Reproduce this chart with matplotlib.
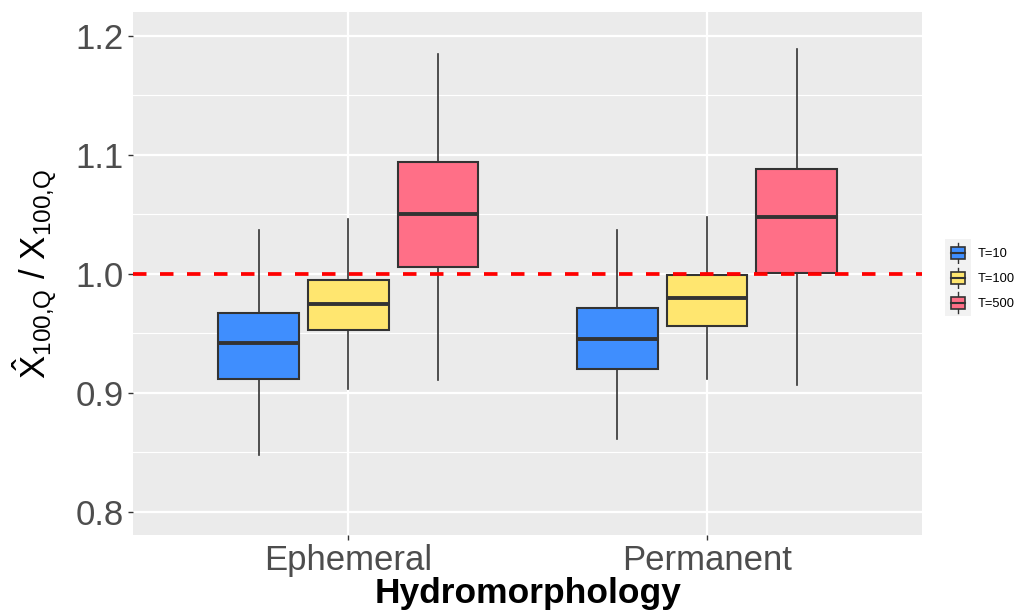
import matplotlib
matplotlib.use("Agg")
import matplotlib.pyplot as plt
from matplotlib.patches import Rectangle
from matplotlib.lines import Line2D
from matplotlib.legend_handler import HandlerBase

plt.rcParams['font.family'] = ['Liberation Sans', 'DejaVu Sans']
plt.rcParams['mathtext.fontset'] = 'custom'
plt.rcParams['mathtext.rm'] = 'Liberation Sans'
plt.rcParams['mathtext.it'] = 'Liberation Sans'

categories = ["Ephemeral", "Permanent"]
groups = ["T=10", "T=100", "T=500"]
colors = ["#3F8EFE", "#FFE66F", "#FF6F87"]

# stats per group: [ephemeral, permanent] -> (whislo, q1, med, q3, whishi)
stats = {
    "T=10":  [(0.848, 0.912, 0.942, 0.967, 1.037), (0.861, 0.920, 0.945, 0.971, 1.037)],
    "T=100": [(0.903, 0.953, 0.975, 0.995, 1.046), (0.912, 0.956, 0.980, 0.999, 1.048)],
    "T=500": [(0.911, 1.006, 1.050, 1.094, 1.185), (0.907, 1.001, 1.048, 1.088, 1.189)],
}
ref_line = 1.0
yticks = [0.8, 0.9, 1.0, 1.1, 1.2]
yminor = [0.85, 0.95, 1.05, 1.15]

fig = plt.figure(figsize=(10.14, 6.11), dpi=100)
ax = fig.add_axes([0.1312, 0.1244, 0.9093 - 0.1312, 0.9804 - 0.1244])
ax.set_facecolor("#EBEBEB")
for s in ax.spines.values():
    s.set_visible(False)

ax.set_xlim(0.4, 2.6)
ax.set_ylim(0.7807, 1.220)

for y in yticks:
    ax.axhline(y, color="white", lw=1.6, zorder=0)
for y in yminor:
    ax.axhline(y, color="white", lw=0.8, zorder=0)
for i in range(len(categories)):
    ax.axvline(i + 1, color="white", lw=1.6, zorder=0)

offsets = [-0.25, 0.0, 0.25]
bw = 0.225
edge = "#333333"
for gi, g in enumerate(groups):
    for ci, cat in enumerate(categories):
        lo, q1, med, q3, hi = stats[g][ci]
        xc = ci + 1 + offsets[gi]
        ax.plot([xc, xc], [lo, q1], color=edge, lw=1.2, zorder=2)
        ax.plot([xc, xc], [q3, hi], color=edge, lw=1.2, zorder=2)
        ax.add_patch(Rectangle((xc - bw / 2, q1), bw, q3 - q1, facecolor=colors[gi],
                               edgecolor=edge, lw=1.5, zorder=3))
        ax.plot([xc - bw / 2, xc + bw / 2], [med, med], color=edge, lw=2.8, zorder=4,
                solid_capstyle="butt")

ax.axhline(ref_line, color="#FF0000", lw=2.7, ls=(0, (3.6, 3.6)), zorder=5)

ax.set_xticks([1, 2])
ax.set_xticklabels(categories, fontsize=25, color="#4D4D4D")
ax.set_yticks(yticks)
ax.set_yticklabels([f"{v:.1f}" for v in yticks], fontsize=25, color="#4D4D4D")
ax.tick_params(axis="both", length=3.5, width=1, color="#333333", pad=3)

ax.set_xlabel("Hydromorphology", fontsize=25.5, fontweight="bold", labelpad=0)
ax.set_ylabel(r"$\hat{\mathrm{X}}_{100{,}\mathrm{Q}}$ / $\mathrm{X}_{100{,}\mathrm{Q}}$", fontsize=25, labelpad=12)


class BoxHandler(HandlerBase):
    def __init__(self, color):
        super().__init__()
        self.color = color

    def create_artists(self, legend, orig_handle, xdescent, ydescent, width, height, fontsize, trans):
        arts = []
        bg = Rectangle((-xdescent - 3, -ydescent - 5), width + 6, height + 10, facecolor="#F2F2F2",
                       edgecolor="none", transform=trans)
        arts.append(bg)
        cx = -xdescent + width / 2
        w = width * 0.85
        h = height * 0.9
        y0 = -ydescent + (height - h) / 2
        arts.append(Line2D([cx, cx], [y0 - 3, y0 + h + 3], color=edge, lw=1, transform=trans))
        arts.append(Rectangle((cx - w / 2, y0), w, h, facecolor=self.color, edgecolor=edge,
                              lw=1.2, transform=trans))
        arts.append(Line2D([cx - w / 2, cx + w / 2], [y0 + h / 2, y0 + h / 2], color=edge, lw=1.5,
                           transform=trans))
        return arts


handles = [Rectangle((0, 0), 1, 1) for _ in groups]
hmap = {h: BoxHandler(c) for h, c in zip(handles, colors)}
leg = fig.legend(handles, groups, handler_map=hmap, loc="center left",
                 bbox_to_anchor=(0.925, 0.545), frameon=False, fontsize=9.3,
                 handlelength=1.3, handleheight=1.2, labelspacing=0.85, handletextpad=0.9)

fig.savefig("out.png", dpi=100)
